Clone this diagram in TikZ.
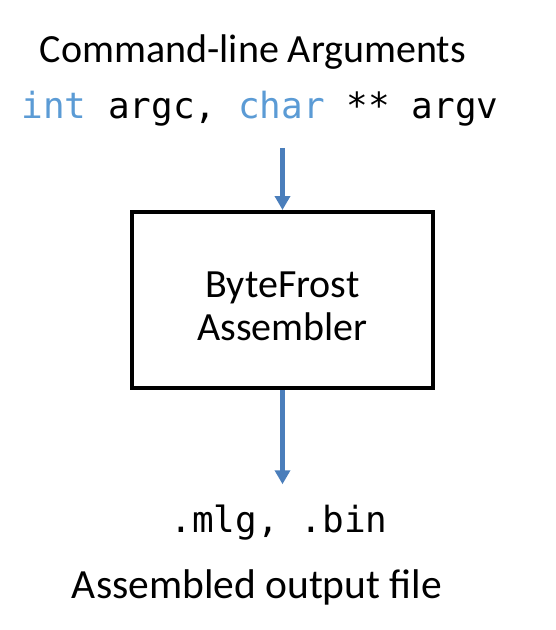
\documentclass[tikz,border=0pt]{standalone}
\usepackage{fontspec}
\setmainfont{Carlito}
\newfontfamily\codefont{DejaVu Sans Mono}
\usetikzlibrary{arrows.meta}
\definecolor{kwblue}{HTML}{5B9BD5}
\definecolor{flowblue}{HTML}{4A7EBB}
\tikzset{>={Triangle[width=15pt,length=14pt]}}
\tikzset{
    captext/.style={font=\fontsize{40}{43}\selectfont, inner sep=0pt, anchor=base},
    codetext/.style={font=\codefont\fontsize{36}{40}\selectfont, inner sep=0pt, anchor=base},
    flow/.style={->, flowblue, line width=4.5pt},
    asmbox/.style={draw, line width=4pt, minimum width=301pt, minimum height=176pt,
        align=center, font=\fontsize{40}{43}\selectfont, text height=80pt, text depth=0pt},
}
\newcommand\kw[1]{\textcolor{kwblue}{#1}}

\begin{document}
\begin{tikzpicture}[x=1pt,y=-1pt]
    \useasboundingbox (0,0) rectangle (556,630);

    \node[captext] (title) at (253,62) {Command-line Arguments};
    \node[codetext] (args) at (260,118) {\kw{int} argc, \kw{char} ** argv};

    \node[asmbox] (asm) at (282.5,300) {ByteFrost\\Assembler};

    \node[codetext] (out) at (279,532) {.mlg, .bin};
    \node[captext, font=\fontsize{41.5}{44}\selectfont] (file) at (257,598) {Assembled output file};

    \draw[flow, shorten <=22pt] (args.south -| asm.north) -- (asm.north);
    \draw[flow, shorten >=20pt] (asm.south) -- (asm.south |- out.north);
\end{tikzpicture}
\end{document}
